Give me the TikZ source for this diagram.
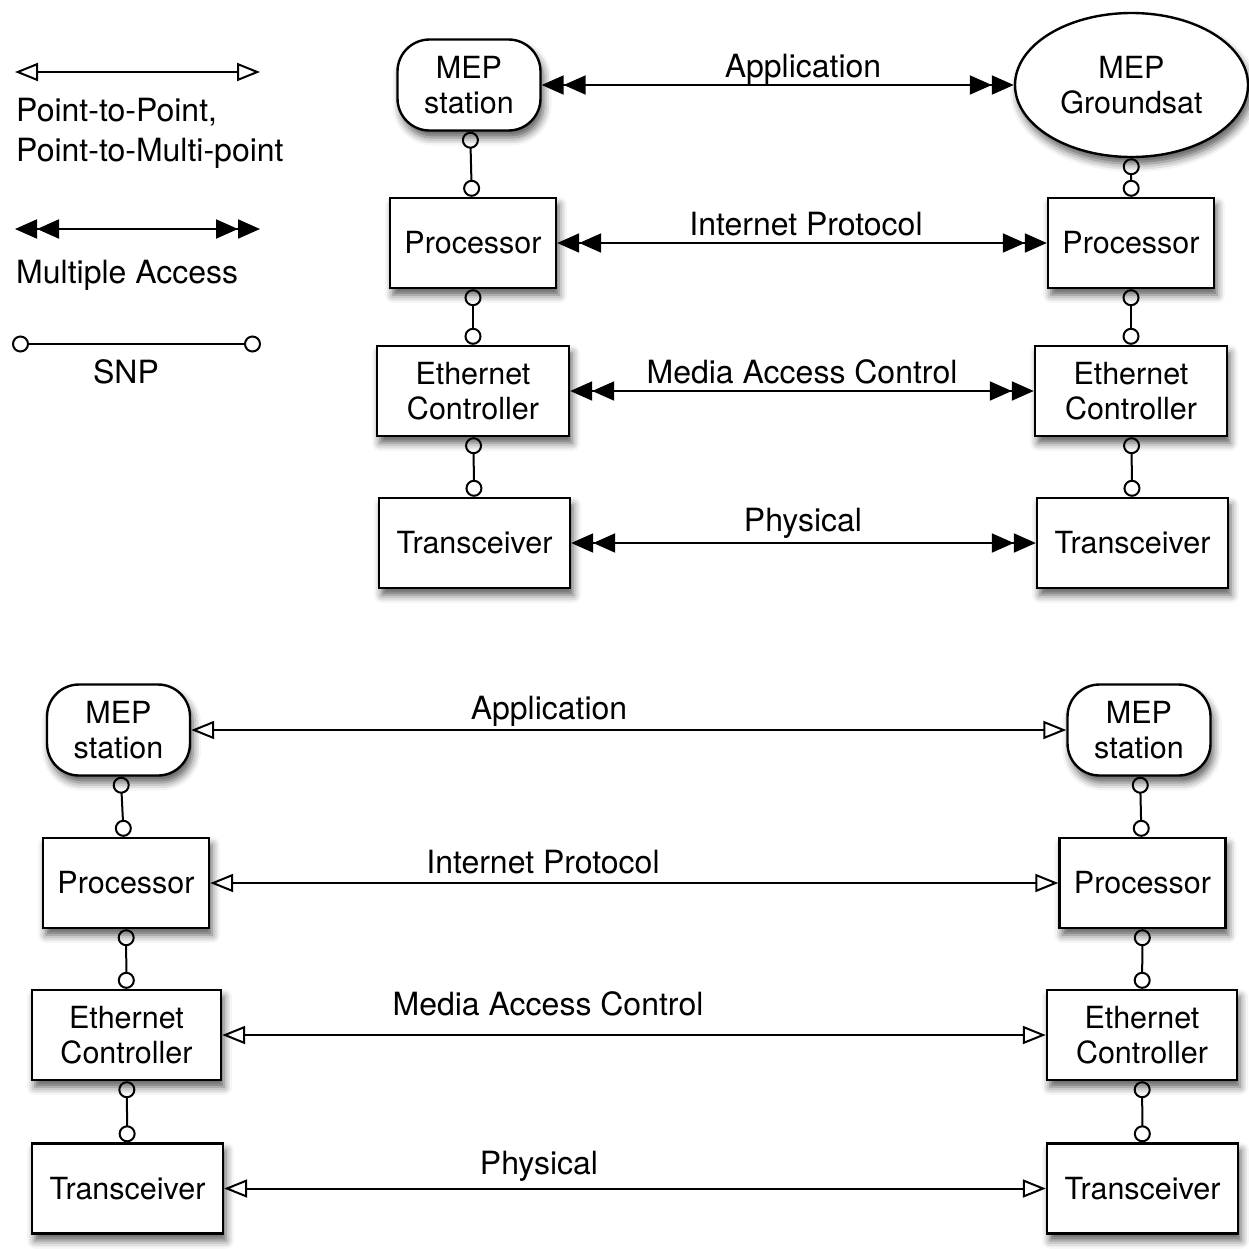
\documentclass[tikz,border=0pt]{standalone}
\usepackage{fontspec}
\setmainfont{TeX Gyre Heros}
\usetikzlibrary{arrows.meta,shapes.geometric,shadows.blur}
\begin{document}
\begin{tikzpicture}[x=1pt,y=-1pt,
  font=\fontsize{32}{36}\selectfont,
  shad/.style={blur shadow={shadow xshift=3pt,shadow yshift=-7pt,shadow blur radius=8pt,shadow opacity=65}},
  box/.style={draw,line width=2.4pt,fill=white,align=center,inner sep=0pt,shad,font=\fontsize{30.5}{35.5}\selectfont},
  rbox/.style={box,rectangle,minimum width=#1,minimum height=90pt},
  rbox/.default=166pt,
  station/.style={box,rounded corners=32pt,minimum width=143pt,minimum height=91pt},
  gsat/.style={box,ellipse,minimum width=233pt,minimum height=144pt},
  lbl/.style={inner sep=0pt,anchor=base},
  lgd/.style={inner sep=0pt,anchor=base west},
  ma tip/.tip={Triangle[length=22pt,width=19pt]Triangle[length=22pt,width=19pt]},
  pp tip/.tip={Triangle[open,length=23pt,width=18pt,line width=2pt]},
  ma/.style={line width=2pt,{ma tip}-{ma tip}},
  pp/.style={line width=2pt,{pp tip}-{pp tip}},
  snp tip/.tip={Circle[open,length=17pt,width=17pt,line width=2pt]},
  snp/.style={line width=2pt,{snp tip}-{snp tip}},
]
\useasboundingbox (0,0) rectangle (1249,1248);

% ---------- legend ----------
\coordinate (la1) at (15,72);
\coordinate (lb1) at (260,72);
\draw[pp] (la1) -- (lb1);
\node[lgd] (lt1) at (16,121) {Point-to-Point,};
\node[lgd] (lt2) at (16,161) {Point-to-Multi-point};
\coordinate (la2) at (15,229);
\coordinate (lb2) at (260,229);
\draw[ma] (la2) -- (lb2);
\node[lgd] (lt3) at (16,283) {Multiple Access};
\coordinate (la3) at (12,344);
\coordinate (lb3) at (261,344);
\draw[snp] (la3) -- (lb3);
\node[lbl] (lt4) at (126,383) {SNP};

% ---------- top stack ----------
\node[station] (ms1) at (469,85) {MEP\\station};
\node[gsat] (gs) at (1131.5,85) {MEP\\Groundsat};
\node[rbox] (p1) at (473,243) {Processor};
\node[rbox] (p2) at (1131,243) {Processor};
\node[rbox=192pt] (e1) at (473,391) {Ethernet\\Controller};
\node[rbox=192pt] (e2) at (1131,391) {Ethernet\\Controller};
\node[rbox=191pt] (t1) at (474.5,543) {Transceiver};
\node[rbox=191pt] (t2) at (1132.5,543) {Transceiver};

\draw[snp] (ms1) -- (p1);
\draw[snp] (p1) -- (e1);
\draw[snp] (e1) -- (t1);
\draw[snp] (gs) -- (p2);
\draw[snp] (p2) -- (e2);
\draw[snp] (e2) -- (t2);

\draw[ma] (ms1) -- (gs);
\draw[ma] (p1) -- (p2);
\draw[ma] (e1) -- (e2);
\draw[ma] (t1) -- (t2);

\node[lbl] (a1) at (803,77) {Application};
\node[lbl] (a2) at (806,235) {Internet Protocol};
\node[lbl] (a3) at (802,383) {Media Access Control};
\node[lbl] (a4) at (803,531) {Physical};

% ---------- bottom stack ----------
\node[station] (ms2) at (118.5,730) {MEP\\station};
\node[station] (ms3) at (1139,730) {MEP\\station};
\node[rbox] (p3) at (126,883) {Processor};
\node[rbox] (p4) at (1142.5,883) {Processor};
\node[rbox=189pt] (e3) at (126.5,1035) {Ethernet\\Controller};
\node[rbox=190pt] (e4) at (1142,1035) {Ethernet\\Controller};
\node[rbox=191pt] (t3) at (127.5,1188.5) {Transceiver};
\node[rbox=191pt] (t4) at (1142.5,1188.5) {Transceiver};

\draw[snp] (ms2) -- (p3);
\draw[snp] (p3) -- (e3);
\draw[snp] (e3) -- (t3);
\draw[snp] (ms3) -- (p4);
\draw[snp] (p4) -- (e4);
\draw[snp] (e4) -- (t4);

\draw[pp] (ms2) -- (ms3);
\draw[pp] (p3) -- (p4);
\draw[pp] (e3) -- (e4);
\draw[pp] (t3) -- (t4);

\node[lbl] (b1) at (549,719) {Application};
\node[lbl] (b2) at (543,873) {Internet Protocol};
\node[lbl] (b3) at (548,1015) {Media Access Control};
\node[lbl] (b4) at (539,1174) {Physical};
\end{tikzpicture}
\end{document}
